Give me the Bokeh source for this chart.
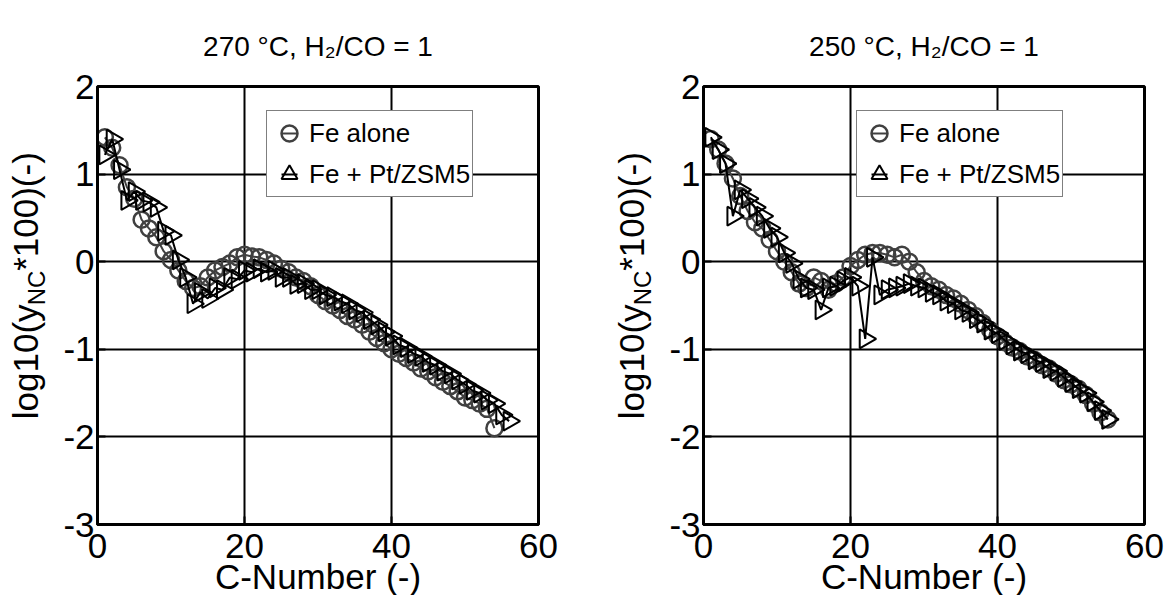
import math
from bokeh.plotting import figure
from bokeh.layouts import row
from bokeh.models import (Label, Range1d, Legend, LegendItem, FixedTicker,
                          PrintfTickFormatter)
from bokeh.embed import file_html
from bokeh.resources import INLINE

# ---------------- data ----------------
titles = ["270 \u00b0C, H\u2082/CO = 1", "250 \u00b0C, H\u2082/CO = 1"]
series_names = ["Fe alone", "Fe + Pt/ZSM5"]
x_label = "C-Number (-)"
y_label_parts = ["log10(y", "NC", "*100)(-)"]
x_ticks = [0, 20, 40, 60]
y_ticks = [-3, -2, -1, 0, 1, 2]

c_fe_270 = list(range(1, 55))
y_fe_270 = [1.42, 1.30, 1.10, 0.85, 0.72, 0.48, 0.38, 0.28, 0.12, 0.02,
            -0.10, -0.22, -0.30, -0.28, -0.18, -0.10, -0.06, -0.02, 0.05, 0.08,
            0.06, 0.05, 0.02, -0.02, -0.08, -0.12, -0.18, -0.22, -0.28, -0.38,
            -0.45, -0.50, -0.55, -0.62, -0.66, -0.72, -0.80, -0.87, -0.93, -1.00,
            -1.05, -1.10, -1.15, -1.22, -1.25, -1.32, -1.37, -1.42, -1.48, -1.55,
            -1.58, -1.62, -1.68, -1.90]
c_pt_270 = list(range(1, 57))
y_pt_270 = [1.22, 1.40, 1.05, 0.70, 0.80, 0.70, 0.68, 0.62, 0.35, 0.30,
            0.02, -0.18, -0.48, -0.35, -0.42, -0.30, -0.32, -0.18, -0.20, -0.10,
            -0.12, -0.08, -0.12, -0.10, -0.18, -0.18, -0.26, -0.25, -0.32, -0.32,
            -0.38, -0.40, -0.45, -0.48, -0.55, -0.58, -0.66, -0.72, -0.80, -0.85,
            -0.95, -0.98, -1.05, -1.08, -1.15, -1.18, -1.25, -1.28, -1.35, -1.40,
            -1.47, -1.50, -1.58, -1.62, -1.75, -1.82]

c_fe_250 = list(range(1, 56))
y_fe_250 = [1.40, 1.28, 1.12, 0.95, 0.75, 0.58, 0.45, 0.38, 0.25, 0.12,
            0.00, -0.12, -0.25, -0.30, -0.18, -0.22, -0.32, -0.25, -0.18, -0.05,
            0.02, 0.08, 0.10, 0.10, 0.08, 0.05, 0.08, 0.00, -0.12, -0.22,
            -0.28, -0.32, -0.38, -0.42, -0.48, -0.55, -0.62, -0.70, -0.78, -0.85,
            -0.92, -0.98, -1.02, -1.08, -1.12, -1.18, -1.22, -1.28, -1.35, -1.40,
            -1.45, -1.52, -1.62, -1.72, -1.80]
c_pt_250 = list(range(1, 56))
y_pt_250 = [1.42, 1.28, 1.12, 0.52, 0.82, 0.72, 0.62, 0.52, 0.38, 0.28,
            0.10, -0.02, -0.20, -0.30, -0.32, -0.55, -0.30, -0.28, -0.22, -0.18,
            -0.28, -0.88, 0.05, -0.38, -0.32, -0.30, -0.28, -0.25, -0.28, -0.30,
            -0.35, -0.38, -0.45, -0.48, -0.55, -0.58, -0.65, -0.70, -0.78, -0.82,
            -0.90, -0.95, -1.02, -1.05, -1.12, -1.15, -1.22, -1.25, -1.32, -1.38,
            -1.45, -1.50, -1.60, -1.70, -1.80]

# ---------------- style / layout ----------------
FONT = "Liberation Sans"
H = 595
FW, FH = 441, 438
TOP, BOTTOM = 86, 71
XR, YR = (0, 60), (-3, 2)
GREY = "#404040"
STRIP_W = [58, 64]


def ylabel_strip(w):
    """narrow text-only strip holding the composed y-axis label
    (its frame is aligned with the neighbouring plot frames)"""
    s = figure(width=w, height=H, x_range=Range1d(0, w),
               y_range=Range1d(TOP + FH, TOP),
               output_backend="svg", toolbar_location=None, min_border=0,
               x_axis_location=None, y_axis_location=None)
    s.outline_line_color = None
    s.grid.visible = False
    base_x = w - 33          # baseline of the main text
    pos = 421                # where the text starts (bottom), pixels from top
    specs = [(y_label_parts[0], 35, 0, 3.279),
             (y_label_parts[1], 24, 11, 1.444),
             (y_label_parts[2], 35, 0, 3.389)]
    for txt, fs, shift, em in specs:
        s.add_layout(Label(x=base_x + shift, y=pos, text=txt, angle=math.pi / 2,
                           text_align="left", text_baseline="alphabetic",
                           text_font=FONT, text_font_size=f"{fs}px",
                           text_color="black"))
        pos -= em * fs
    return s


def make(title, cfe, yfe, cpt, ypt, bl, br, leg_loc):
    p = figure(frame_width=FW, frame_height=FH,
               x_range=Range1d(*XR), y_range=Range1d(*YR),
               output_backend="svg", toolbar_location=None,
               min_border_left=bl, min_border_right=br,
               min_border_top=TOP, min_border_bottom=BOTTOM)
    p.title.text = title
    p.title.align = "center"
    p.title.vertical_align = "top"
    p.title.text_font = FONT
    p.title.text_font_size = "28px"
    p.title.text_font_style = "normal"
    p.title.text_color = "black"
    p.title.standoff = 46

    p.outline_line_color = "black"
    p.outline_line_width = 3
    p.background_fill_color = "white"
    p.border_fill_color = "white"
    for ax in (p.xaxis[0], p.yaxis[0]):
        ax.axis_line_width = 3
        ax.axis_line_color = "black"
        ax.major_tick_in = 8
        ax.major_tick_out = 0
        ax.major_tick_line_width = 2
        ax.minor_tick_line_color = None
        ax.major_label_text_font = FONT
        ax.major_label_text_font_size = "35px"
        ax.major_label_text_color = "black"
        ax.formatter = PrintfTickFormatter(format="%d")
    p.xaxis.ticker = FixedTicker(ticks=x_ticks)
    p.yaxis.ticker = FixedTicker(ticks=y_ticks)
    p.xaxis.major_label_standoff = 9
    p.yaxis.major_label_standoff = 3
    p.xaxis.axis_label = x_label
    p.xaxis.axis_label_text_font = FONT
    p.xaxis.axis_label_text_font_size = "35px"
    p.xaxis.axis_label_text_font_style = "normal"
    p.xaxis.axis_label_text_color = "black"
    p.xaxis.axis_label_standoff = -4
    p.grid.grid_line_color = "black"
    p.grid.grid_line_width = 2
    p.grid.grid_line_alpha = 1.0

    p.line(cfe, yfe, line_color=GREY, line_width=2)
    s1 = p.scatter(cfe, yfe, marker="circle", size=16, fill_color=None,
                   line_color=GREY, line_width=2.5)
    p.line(cpt, ypt, line_color="black", line_width=2)
    s2 = p.scatter(cpt, ypt, marker="triangle", size=19, angle=-math.pi / 2,
                   fill_color=None, line_color="black", line_width=2)
    # zero-size dash markers on the same points: invisible in the plot,
    # they only give the legend key its short line through the marker
    d1 = p.scatter(cfe, yfe, marker="dash", size=0, line_color=GREY, line_width=2)
    d2 = p.scatter(cpt, ypt, marker="dash", size=0, line_color="black", line_width=2)

    leg = Legend(items=[LegendItem(label=series_names[0], renderers=[d1, s1]),
                        LegendItem(label=series_names[1], renderers=[d2, s2])],
                 location=leg_loc)
    leg.label_text_font = FONT
    leg.label_text_font_size = "26px"
    leg.label_text_color = "black"
    leg.glyph_width = 40
    leg.glyph_height = 40
    leg.label_standoff = -10
    leg.padding = 2
    leg.spacing = 1
    leg.margin = 0
    leg.border_line_color = "black"
    leg.border_line_width = 1.5
    leg.background_fill_alpha = 1.0
    p.add_layout(leg)
    return p


strip1 = ylabel_strip(STRIP_W[0])
p1 = make(titles[0], c_fe_270, y_fe_270, c_pt_270, y_pt_270, 39, 62, (169, 327))
strip2 = ylabel_strip(STRIP_W[1])
p2 = make(titles[1], c_fe_250, y_fe_250, c_pt_250, y_pt_250, 39, 24, (153, 327))
layout = row(strip1, p1, strip2, p2, spacing=0)
open("out.html", "w").write(file_html(layout, INLINE))
